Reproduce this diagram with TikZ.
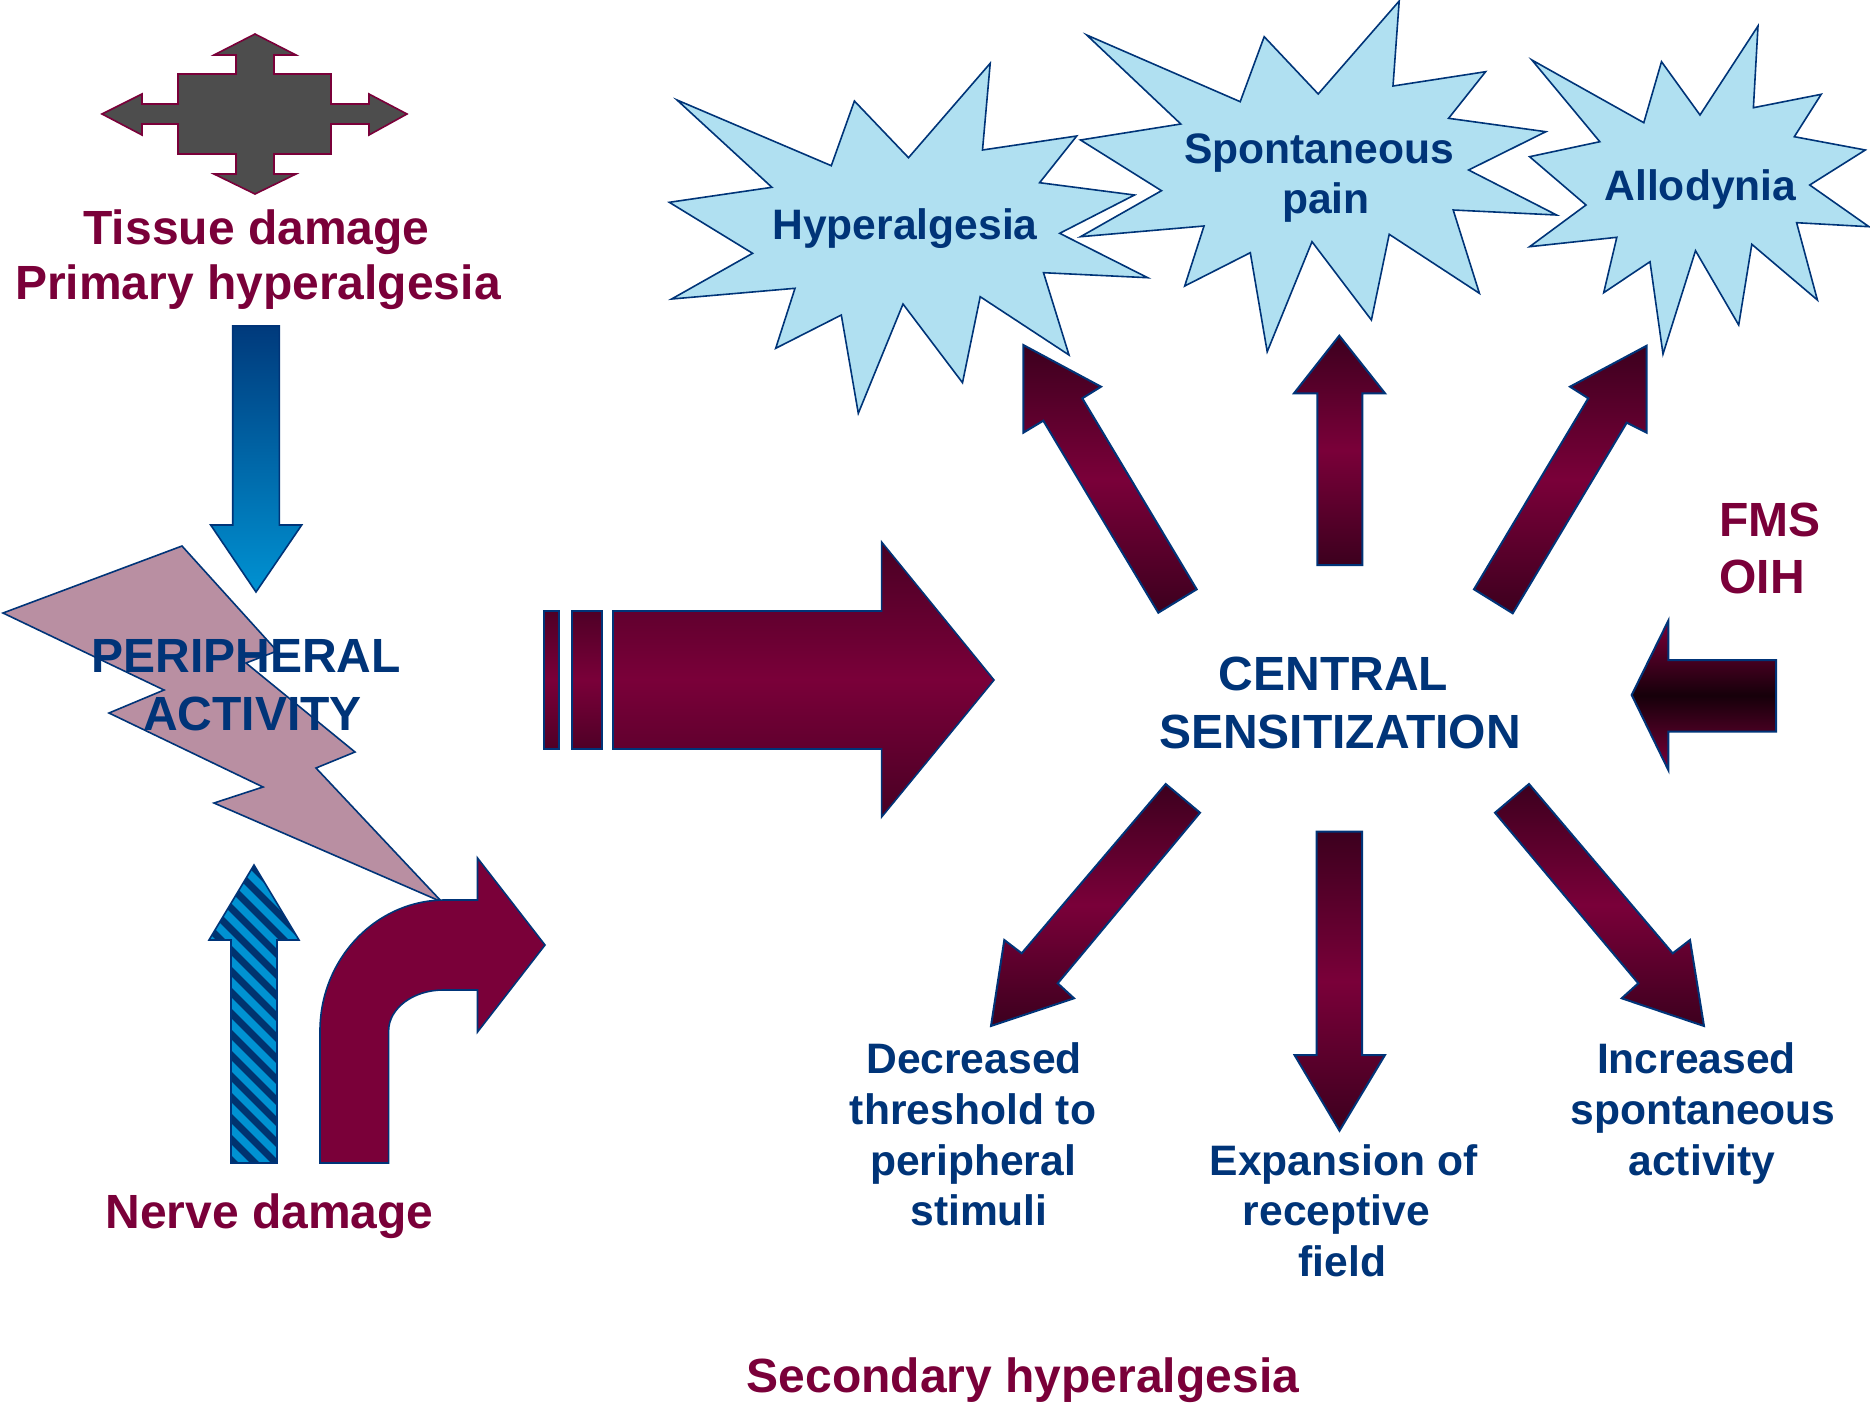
\documentclass[tikz,border=0pt]{standalone}
\usepackage{fontspec}
\setmainfont{Liberation Sans}
\definecolor{maroon}{HTML}{7A0039}
\definecolor{darkm}{HTML}{3C001E}
\definecolor{blackm}{HTML}{16000A}
\definecolor{navy}{HTML}{003478}
\definecolor{lightblue}{HTML}{B0E0F1}
\definecolor{mauve}{HTML}{B98FA2}
\definecolor{crossgray}{HTML}{4D4D4D}
\definecolor{brightblue}{HTML}{0092D2}
\definecolor{deepblue}{HTML}{003A7C}
\definecolor{stripenavy}{HTML}{00336F}
\begin{document}
\begin{tikzpicture}[x=0.5pt,y=-0.5pt,
  big/.style={font=\fontsize{24}{28}\selectfont\bfseries, inner sep=0pt, anchor=base},
  mar/.style={big, text=maroon},
  nav/.style={big, text=navy},
  sml/.style={font=\fontsize{21.3}{25}\selectfont\bfseries, inner sep=0pt, anchor=base, text=navy},
  burst/.style={fill=lightblue, draw=navy, line width=0.8pt, line join=miter},
  marrow/.style={top color=darkm, bottom color=darkm, middle color=maroon, draw=navy, line width=1pt, line join=miter},
]
\useasboundingbox (0,0) rectangle (1870,1404);

% ---- tissue damage cross arrow
\filldraw[fill=crossgray, draw=maroon, line width=0.8pt, line join=miter]
  (255,34) -- (296,55) -- (274,55) -- (274,74) -- (331,74) -- (331,104) -- (369,104) -- (369,94)
  -- (407,114) -- (369,135) -- (369,124) -- (331,124) -- (331,154) -- (274,154) -- (274,174)
  -- (296,174) -- (255,194) -- (214,174) -- (236,174) -- (236,154) -- (178,154) -- (178,124)
  -- (142,124) -- (142,135) -- (102,114) -- (142,94) -- (142,104) -- (178,104) -- (178,74)
  -- (236,74) -- (236,55) -- (214,55) -- cycle;
\node[mar] (tissue) at (256.5,244) {Tissue damage};
\node[mar] (primary) at (258,299) {Primary hyperalgesia};

% ---- blue down arrow
\shadedraw[top color=deepblue, bottom color=brightblue, draw=navy, line width=0.8pt, line join=miter]
  (232.7,326) -- (279.3,326) -- (279.3,525) -- (301.7,525) -- (256,592) -- (210.7,525) -- (232.7,525) -- cycle;

% ---- lightning bolt
\filldraw[fill=mauve, draw=navy, line width=0.8pt, line join=miter]
  (3,613) -- (182,546) -- (277,651) -- (246,663) -- (355,752) -- (316,768) -- (442,902)
  -- (214,803) -- (263,787) -- (109,713) -- (164,690) -- cycle;
\node[nav] (periph1) at (246,672) {PERIPHERAL};
\node[nav] (periph2) at (252.5,730) {ACTIVITY};

% ---- striped up arrow (nerve damage)
\begin{scope}
  \clip (231,1163) -- (231,940) -- (209,940) -- (254,865) -- (299,940) -- (277,940) -- (277,1163) -- cycle;
  \fill[brightblue] (200,850) rectangle (310,1170);
  \foreach \c in {680,701,...,1150}
    \draw[stripenavy, line width=3.4pt] (150,\c) -- (350,\c+200);
\end{scope}
\draw[navy, line width=0.8pt, line join=miter]
  (231,1163) -- (231,940) -- (209,940) -- (254,865) -- (299,940) -- (277,940) -- (277,1163) -- cycle;

% ---- curved arrow
\filldraw[fill=maroon, draw=navy, line width=0.8pt, line join=miter]
  (320,1163) -- (320,1031) .. controls (320,959) and (376,900) .. (445,900) -- (477.5,900)
  -- (477.5,858) -- (545,945) -- (477.5,1032) -- (477.5,990) -- (443,990)
  .. controls (413,990) and (388.6,1008.5) .. (388.6,1031) -- (388.6,1163) -- cycle;
\node[mar] (nerve) at (269.5,1228) {Nerve damage};

% ---- big right arrow with bars
\shadedraw[top color=darkm!70!maroon, bottom color=darkm!70!maroon, middle color=maroon, draw=navy, line width=0.8pt]
  (544,611) rectangle (559,749);
\shadedraw[top color=darkm!70!maroon, bottom color=darkm!70!maroon, middle color=maroon, draw=navy, line width=0.8pt]
  (571.7,611) rectangle (601.8,749);
\shadedraw[top color=darkm!80!maroon, bottom color=darkm!80!maroon, middle color=maroon, draw=navy, line width=0.8pt, line join=miter]
  (613,611) -- (881.6,611) -- (881.6,542) -- (994,680) -- (881.6,817) -- (881.6,749) -- (613,749) -- cycle;

% ---- starbursts
\draw[burst] (677,100) -- (831.3,165.7) -- (854.4,101) -- (908.5,157.7) -- (990.2,63.3) -- (982.5,150)
  -- (1076.7,136) -- (1039.6,182.7) -- (1134.5,195) -- (1059.7,233.3) -- (1147.7,277.7) -- (1043.5,272.7)
  -- (1069,355) -- (980.2,296.7) -- (962.5,382.7) -- (903,304) -- (858.3,413.3) -- (841.3,315)
  -- (775.7,348.3) -- (795,288.3) -- (671.6,299) -- (752.6,253.3) -- (669.3,202.3) -- (771.9,187.3) -- cycle;
\draw[burst] (1086.7,35) -- (1240.2,101.7) -- (1264.2,36.7) -- (1318.2,94) -- (1399.2,1) -- (1393,86)
  -- (1485.6,71.7) -- (1448.6,118.3) -- (1545.8,131.7) -- (1468.6,170) -- (1556.6,215) -- (1453.2,210)
  -- (1479.4,293.3) -- (1389.2,234.3) -- (1371.4,320) -- (1312,241.7) -- (1267.2,351.7) -- (1250.3,252.7)
  -- (1184.7,286) -- (1204,226) -- (1080.5,236.7) -- (1161.5,190.7) -- (1080.5,140) -- (1180.8,124) -- cycle;
\draw[burst] (1531.9,60) -- (1643.8,122.7) -- (1661.5,61.7) -- (1700,115) -- (1758,26) -- (1753.4,107.7)
  -- (1821.2,94.3) -- (1794.3,136.7) -- (1865.3,150) -- (1809.7,185) -- (1869,226.7) -- (1796.6,222.7)
  -- (1817.4,300) -- (1751.8,244.3) -- (1738.7,325) -- (1695.5,250.7) -- (1663,354) -- (1650,261.7)
  -- (1603.7,292.7) -- (1616.8,237.3) -- (1529.6,246.7) -- (1586,205) -- (1529.6,156.7) -- (1599.8,141.7) -- cycle;
\node[sml] (hyper) at (905,239.3) {Hyperalgesia};
\node[sml] (spont1) at (1319,163.3) {Spontaneous};
\node[sml] (spont2) at (1326,213.3) {pain};
\node[sml] (allo) at (1700.4,200) {Allodynia};

% ---- arrows around central sensitization
\shadedraw[marrow] (1023.3,345) -- (1101,386.7) -- (1082.3,398.3) -- (1196.7,589.3) -- (1158.3,612.7)
  -- (1043.3,420.7) -- (1023.3,432.7) -- cycle;
\shadedraw[marrow] (1339.3,335.7) -- (1385,393.3) -- (1362.3,393.3) -- (1362.3,565) -- (1317.3,565)
  -- (1317.3,393.3) -- (1294,393.3) -- cycle;
\shadedraw[marrow] (1646.7,345.7) -- (1646.7,432.7) -- (1626.7,422.7) -- (1512.7,613.3) -- (1474,589.3)
  -- (1588.3,398.3) -- (1570,386.7) -- cycle;
\shadedraw[top color=maroon, bottom color=maroon, middle color=blackm, draw=navy, line width=1pt, line join=miter]
  (1631.7,695) -- (1668.3,620.7) -- (1668.3,660) -- (1776,660) -- (1776,731.7) -- (1668.3,731.7) -- (1668.3,770) -- cycle;
\shadedraw[marrow] (1165.7,784) -- (1200,812.7) -- (1057.7,983.3) -- (1074,998.3) -- (991,1026)
  -- (1004.3,940) -- (1021.7,953.3) -- cycle;
\shadedraw[marrow] (1316.5,831.7) -- (1362,831.7) -- (1362,1055) -- (1385,1055) -- (1339.5,1130.7)
  -- (1294.5,1055) -- (1316.5,1055) -- cycle;
\shadedraw[marrow] (1529,784) -- (1495,812.7) -- (1638.3,983.3) -- (1621.7,998.3) -- (1704,1026)
  -- (1690,940) -- (1672.7,953.3) -- cycle;

\node[nav] (central1) at (1333.5,690) {CENTRAL};
\node[nav] (central2) at (1340,748) {SENSITIZATION};
\node[mar, anchor=base west] (fms) at (1719,536.7) {FMS};
\node[mar, anchor=base west] (oih) at (1719,593.3) {OIH};

% ---- bottom labels
\node[sml] (dec1) at (974,1073) {Decreased};
\node[sml] (dec2) at (973,1124) {threshold to};
\node[sml] (dec3) at (973,1175) {peripheral};
\node[sml] (dec4) at (979,1225) {stimuli};
\node[sml] (exp1) at (1343.5,1175) {Expansion of};
\node[sml] (exp2) at (1336.5,1225) {receptive};
\node[sml] (exp3) at (1342.5,1276.7) {field};
\node[sml] (inc1) at (1696.5,1073) {Increased};
\node[sml] (inc2) at (1703,1124) {spontaneous};
\node[sml] (inc3) at (1702,1175) {activity};
\node[mar] (secondary) at (1023,1392) {Secondary hyperalgesia};
\end{tikzpicture}
\end{document}
